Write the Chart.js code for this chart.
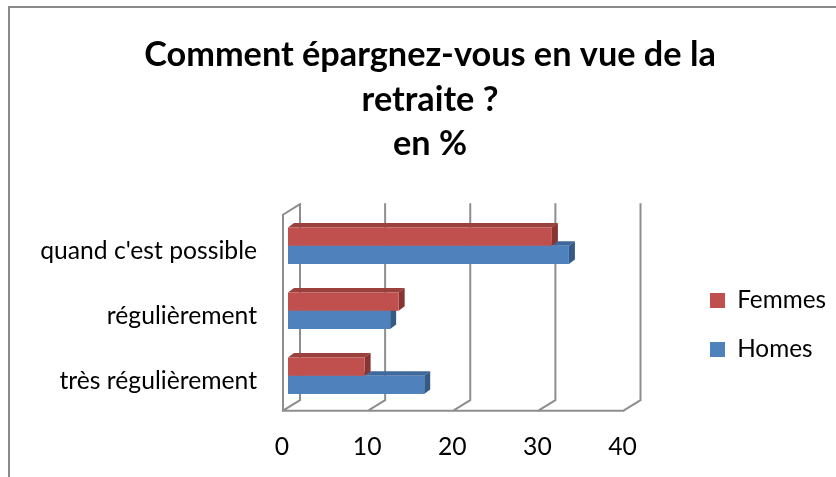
<!DOCTYPE html>
<html>
<head>
<meta charset="utf-8">
<script src="https://cdn.jsdelivr.net/npm/chart.js@4/dist/chart.umd.min.js"></script>
<style>
  html, body { margin: 0; padding: 0; background: #ffffff; }
  canvas { display: block; }
</style>
</head>
<body>
<canvas id="c" width="836" height="477"></canvas>
<script>
// ---- data ----
const titleLines = ["Comment épargnez-vous en vue de la", "retraite ?", "en %"];
const categories = ["quand c'est possible", "régulièrement", "très régulièrement"];
const seriesNames = ["Femmes", "Homes"];
const femmesValues = [31, 13, 9];
const homesValues = [33, 12, 16];
const xTickValues = [0, 10, 20, 30, 40];

// ---- layout / style ----
const FONT = "Lato, 'Open Sans', sans-serif";
const W = 836, H = 477;
const PLOT = { left: 288, right: 628.5, top: 213.2, bottom: 408.2 };
const PAD = { left: 34, right: 10, top: 10, bottom: 0 };
const MID = 0.23;            // 'middle' -> alphabetic baseline offset (em), empirical
const COLORS = {
  femmes: { front: '#C0504D', top: '#9A403D', side: '#873432' },
  homes:  { front: '#4F81BD', top: '#40699B', side: '#365A86' }
};
const GRID = '#8E8E8E';

function fitSize(text, weight, target) {
  const c = document.createElement('canvas').getContext('2d');
  c.font = weight + ' 100px ' + FONT;
  return 100 * target / c.measureText(text).width;
}
const titleSize = fitSize(titleLines[0], 'bold', 572);
const labelSize = fitSize(categories[0], 'normal', 217);
const tickSize = labelSize;
const legendSize = fitSize(seriesNames[0], 'normal', 89);
const titleLH = 44.5;
const titlePadTop = 63 - MID * titleSize - titleLH / 2 - PAD.top;
const titlePadBottom = PLOT.top - PAD.top - titlePadTop - titleLH * titleLines.length;
const legendPad = 49 - legendSize;

function poly(ctx, pts) {
  ctx.beginPath();
  ctx.moveTo(pts[0][0], pts[0][1]);
  for (let i = 1; i < pts.length; i++) ctx.lineTo(pts[i][0], pts[i][1]);
  ctx.closePath();
  ctx.fill();
}

const frame3d = {
  id: 'frame3d',
  beforeDraw(chart) {
    const { ctx, width, height } = chart;
    ctx.save();
    ctx.fillStyle = '#ffffff';
    ctx.fillRect(0, 0, width, height);
    ctx.strokeStyle = '#8A8A8A';
    ctx.lineWidth = 2;
    ctx.beginPath();
    ctx.moveTo(9, height + 5);
    ctx.lineTo(9, 7);
    ctx.lineTo(width + 5, 7);
    ctx.stroke();
    ctx.restore();
  },
  afterLayout(chart) {
    const lg = chart.legend;
    if (!lg) return;
    const h = lg.height;
    lg.left = 710 - legendPad;
    lg.right = W;
    lg.width = lg.right - lg.left;
    lg.top = 300.5 - legendSize / 2 - legendPad;
    lg.bottom = lg.top + h;
  },
  beforeDatasetsDraw(chart) {
    const { ctx, chartArea: a } = chart;
    const xs = chart.scales.x;
    const fDx = -5, bDx = 12;
    const fy = a.bottom + 2.5, by = a.bottom - 8, ty = a.top - 9;
    ctx.save();
    ctx.strokeStyle = GRID;
    ctx.lineWidth = 2;
    ctx.lineCap = 'square';
    ctx.beginPath();
    const x0 = xs.getPixelForValue(xTickValues[0]);
    const xN = xs.getPixelForValue(xTickValues[xTickValues.length - 1]);
    // left wall
    ctx.moveTo(x0 + fDx, fy);
    ctx.lineTo(x0 + fDx, ty + (fy - by));
    ctx.lineTo(x0 + bDx, ty);
    // floor front edge
    ctx.moveTo(x0 + fDx, fy);
    ctx.lineTo(xN + fDx, fy);
    xTickValues.forEach(v => {
      const p = xs.getPixelForValue(v);
      ctx.moveTo(p + fDx, fy);
      ctx.lineTo(p + bDx, by);
      ctx.lineTo(p + bDx, ty);
    });
    ctx.stroke();

    // 3D faces of the bars (behind the front faces)
    const dx = 6, dy = -4.5;
    const shades = [COLORS.femmes, COLORS.homes];
    for (let di = chart.data.datasets.length - 1; di >= 0; di--) {
      const meta = chart.getDatasetMeta(di);
      meta.data.forEach(bar => {
        const p = bar.getProps(['x', 'y', 'base', 'height'], true);
        const t = p.y - p.height / 2, b = p.y + p.height / 2;
        ctx.fillStyle = shades[di].top;
        poly(ctx, [[p.base, t], [p.x, t], [p.x + dx, t + dy], [p.base + dx, t + dy]]);
        ctx.fillStyle = shades[di].side;
        poly(ctx, [[p.x, t], [p.x + dx, t + dy], [p.x + dx, b + dy], [p.x, b]]);
      });
    }
    ctx.restore();
  }
};

new Chart(document.getElementById('c'), {
  type: 'bar',
  data: {
    labels: categories,
    datasets: [
      { label: seriesNames[0], data: femmesValues, backgroundColor: COLORS.femmes.front, borderWidth: 0 },
      { label: seriesNames[1], data: homesValues, backgroundColor: COLORS.homes.front, borderWidth: 0 }
    ]
  },
  options: {
    indexAxis: 'y',
    responsive: false,
    animation: false,
    events: [],
    datasets: { bar: { categoryPercentage: 0.563, barPercentage: 1 } },
    layout: { padding: PAD },
    scales: {
      x: {
        type: 'linear', position: 'bottom', min: 0, max: 40,
        grid: { display: false, drawTicks: false },
        border: { display: false },
        afterBuildTicks: s => { s.ticks = xTickValues.map(v => ({ value: v })); },
        ticks: {
          color: '#000', font: { family: FONT, size: tickSize },
          padding: 453 - PLOT.bottom - (0.6 + MID) * tickSize,
          labelOffset: -6, maxRotation: 0, autoSkip: false
        },
        afterFit: s => { s.height = H - PAD.bottom - PLOT.bottom; }
      },
      y: {
        type: 'category', position: 'left',
        grid: { display: false, drawTicks: false },
        border: { display: false },
        ticks: {
          color: '#000', font: { family: FONT, size: labelSize },
          padding: 31, labelOffset: 11.5 - MID * labelSize
        },
        afterFit: s => { s.width = PLOT.left - PAD.left; }
      },
      yR: {
        type: 'linear', position: 'right', display: true,
        grid: { display: false, drawTicks: false },
        border: { display: false },
        ticks: { display: false },
        afterFit: s => { s.width = Math.max(0, W - PAD.right - s.chart.legend.width - PLOT.right); }
      }
    },
    plugins: {
      title: {
        display: true, text: titleLines, color: '#000',
        font: { family: FONT, size: titleSize, weight: 'bold', lineHeight: titleLH + 'px' },
        padding: { top: titlePadTop, bottom: titlePadBottom }
      },
      legend: {
        position: 'right', align: 'start',
        labels: {
          color: '#000', font: { family: FONT, size: legendSize },
          boxWidth: 15, boxHeight: 15, padding: legendPad
        }
      },
      tooltip: { enabled: false }
    }
  },
  plugins: [frame3d]
});
</script>
</body>
</html>
